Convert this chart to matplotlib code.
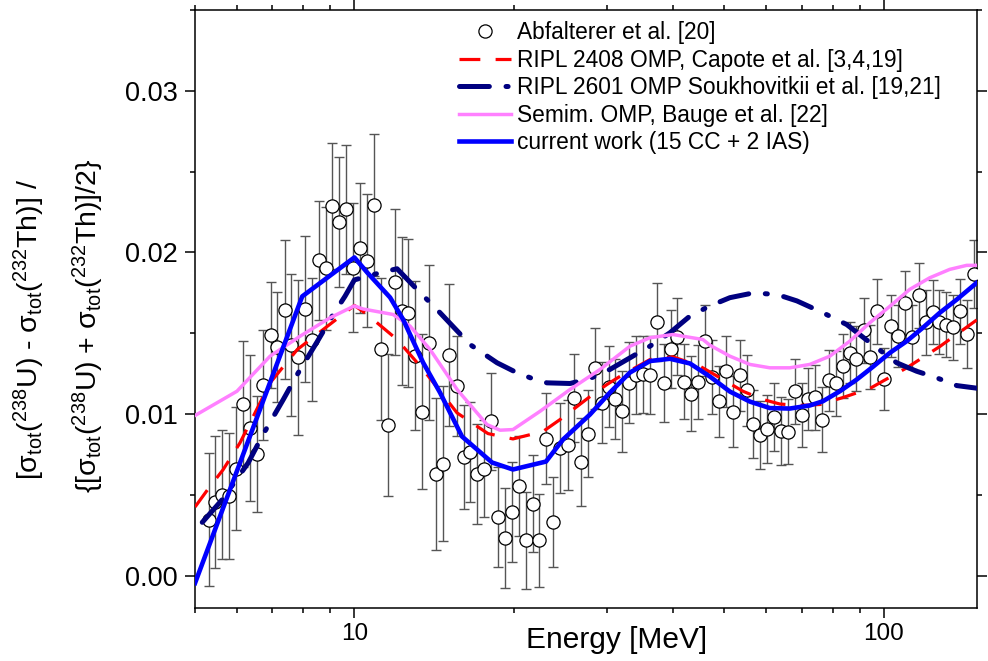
import numpy as np
import matplotlib
matplotlib.use("Agg")
import matplotlib.pyplot as plt
from matplotlib.ticker import LogLocator, NullFormatter, FuncFormatter, MultipleLocator

plt.rcParams['font.family'] = ['Liberation Sans', 'DejaVu Sans']
plt.rcParams['mathtext.fontset'] = 'custom'
plt.rcParams['mathtext.rm'] = 'Liberation Sans'
plt.rcParams['mathtext.it'] = 'Liberation Sans:italic'
plt.rcParams['lines.scale_dashes'] = False

# measured data (Abfalterer et al.)
energy = [5.31, 5.45, 5.63, 5.80, 5.97, 6.16, 6.35, 6.55, 6.72, 6.95,
          7.14, 7.38, 7.60, 7.82, 8.07, 8.31, 8.58, 8.83, 9.09, 9.36,
          9.65, 9.94, 10.25, 10.57, 10.89, 11.22, 11.56, 11.91, 12.28, 12.63,
          12.99, 13.40, 13.84, 14.26, 14.69, 15.12, 15.61, 16.09, 16.56, 17.04,
          17.59, 18.14, 18.68, 19.24, 19.83, 20.44, 21.05, 21.70, 22.36, 23.05,
          23.75, 24.46, 25.27, 25.99, 26.77, 27.60, 28.43, 29.31, 30.22, 31.10,
          32.06, 33.05, 34.03, 35.04, 36.12, 37.24, 38.38, 39.57, 40.76, 41.98,
          43.27, 44.61, 45.98, 47.34, 48.74, 50.25, 51.81, 53.41, 55.06, 56.67,
          58.34, 60.14, 62.00, 63.91, 65.89, 67.83, 69.92, 71.96, 74.24, 76.46,
          78.73, 81.10, 83.68, 86.19, 88.75, 91.57, 94.18, 97.12, 100.1, 103.2,
          106.4, 109.5, 112.9, 116.3, 119.9, 123.6, 127.3, 131.1, 135.1, 139.3,
          143.6, 147.9]
ratio = [0.00347, 0.00456, 0.00502, 0.00495, 0.00661, 0.01063, 0.00915, 0.00754, 0.01180, 0.01489,
         0.01417, 0.01644, 0.01427, 0.01352, 0.01651, 0.01461, 0.01950, 0.01901, 0.02285, 0.02188,
         0.02266, 0.01905, 0.02027, 0.01949, 0.02291, 0.01401, 0.00932, 0.01816, 0.01638, 0.01625,
         0.01362, 0.01014, 0.01441, 0.00630, 0.00692, 0.01364, 0.01172, 0.00735, 0.00765, 0.00630,
         0.00661, 0.00954, 0.00363, 0.00233, 0.00395, 0.00553, 0.00218, 0.00444, 0.00218, 0.00848,
         0.00331, 0.00791, 0.00809, 0.01099, 0.00703, 0.00879, 0.01282, 0.01069, 0.01168, 0.01093,
         0.01017, 0.01194, 0.01240, 0.01245, 0.01240, 0.01568, 0.01193, 0.01404, 0.01479, 0.01201,
         0.01127, 0.01197, 0.01454, 0.01228, 0.01079, 0.01265, 0.01015, 0.01240, 0.01147, 0.00938,
         0.00871, 0.00908, 0.00980, 0.00897, 0.00890, 0.01141, 0.00993, 0.01092, 0.01103, 0.00966,
         0.01209, 0.01189, 0.01298, 0.01380, 0.01342, 0.01518, 0.01353, 0.01636, 0.01218, 0.01546,
         0.01484, 0.01684, 0.01476, 0.01734, 0.01568, 0.01632, 0.01570, 0.01554, 0.01536, 0.01635,
         0.01497, 0.01868]
ratio_err = [0.0041, 0.0041, 0.0040, 0.0039, 0.0038, 0.0039, 0.0045, 0.0036, 0.0034, 0.0033,
             0.0034, 0.0043, 0.0044, 0.0048, 0.0045, 0.0038, 0.0037, 0.0038, 0.0039, 0.0040,
             0.0040, 0.0040, 0.0040, 0.0041, 0.0044, 0.0044, 0.0044, 0.0045, 0.0046, 0.0046,
             0.0046, 0.0048, 0.0048, 0.0047, 0.0048, 0.0044, 0.0031, 0.0032, 0.0031, 0.0031,
             0.0030, 0.0030, 0.0031, 0.0031, 0.0031, 0.0031, 0.0030, 0.0030, 0.0029, 0.0028,
             0.0028, 0.0028, 0.0028, 0.0027, 0.0027, 0.0027, 0.0025, 0.0025, 0.0025, 0.0025,
             0.0025, 0.0025, 0.0024, 0.0024, 0.0024, 0.0024, 0.0024, 0.0024, 0.0024, 0.0023,
             0.0023, 0.0023, 0.0022, 0.0023, 0.0022, 0.0022, 0.0022, 0.0022, 0.0022, 0.0021,
             0.0021, 0.0021, 0.0021, 0.0021, 0.0020, 0.0020, 0.0020, 0.0019, 0.0020, 0.0020,
             0.0019, 0.0020, 0.0020, 0.0019, 0.0020, 0.0020, 0.0020, 0.0020, 0.0019, 0.0019,
             0.0019, 0.0020, 0.0020, 0.0020, 0.0020, 0.0020, 0.0020, 0.0020, 0.0020, 0.0020,
             0.0021, 0.0021]

# RIPL 2408 (Capote)
e_capote = [5.00, 5.30, 5.65, 6.08, 6.93, 7.80, 8.73, 10.0, 10.57, 12.04, 13.48, 15.63,
            17.88, 19.93, 22.71, 24.46, 27.86, 30.00, 32.17, 36.17, 39.97, 44.94, 49.67,
            54.18, 59.10, 63.64, 69.42, 75.72, 83.68, 94.10, 100.0, 110.5, 127.6, 149.8]
capote = [0.00425, 0.00539, 0.00656, 0.00822, 0.01193, 0.01399, 0.01523, 0.01672, 0.01616,
          0.01461, 0.01276, 0.01007, 0.00879, 0.00846, 0.00892, 0.00966, 0.01108, 0.01183,
          0.01245, 0.01337, 0.01354, 0.01296, 0.01214, 0.01141, 0.01090, 0.01062, 0.01053,
          0.01059, 0.01102, 0.01158, 0.01207, 0.01286, 0.01418, 0.01582]

# RIPL 2601 (Soukhovitskii)
e_souk = [5.16, 5.63, 6.30, 6.72, 7.34, 7.80, 8.50, 9.08, 9.60, 10.0, 11.23, 12.04, 12.91,
          14.51, 16.54, 18.60, 20.29, 21.75, 23.11, 25.55, 27.86, 30.39, 33.16, 36.17, 39.45,
          43.03, 46.94, 51.20, 56.59, 62.81, 68.52, 76.70, 85.07, 96.94, 105.8, 115.3, 125.9,
          137.4, 149.8]
souk = [0.00330, 0.00471, 0.00698, 0.00873, 0.01090, 0.01245, 0.01446, 0.01606, 0.01729,
        0.01830, 0.01876, 0.01899, 0.01796, 0.01627, 0.01430, 0.01317, 0.01255, 0.01218,
        0.01193, 0.01189, 0.01220, 0.01276, 0.01348, 0.01420, 0.01503, 0.01606, 0.01669,
        0.01720, 0.01749, 0.01740, 0.01700, 0.01627, 0.01554, 0.01410, 0.01317, 0.01265,
        0.01224, 0.01176, 0.01160]

# semi-microscopic OMP (Bauge)
e_bauge = [5.00, 6.00, 6.93, 7.90, 9.00, 10.0, 10.38, 11.83, 12.74, 13.90, 15.63, 17.80,
           18.84, 19.93, 22.42, 25.55, 29.11, 33.16, 36.17, 39.97, 45.53, 46.94, 51.20,
           55.85, 60.92, 66.45, 72.48, 79.07, 86.25, 94.10, 102.7, 111.9, 122.1, 133.2,
           143.4, 149.8]
bauge = [0.00991, 0.01141, 0.01358, 0.01482, 0.01596, 0.01669, 0.01650, 0.01616, 0.01544,
         0.01399, 0.01152, 0.00935, 0.00900, 0.00904, 0.01017, 0.01152, 0.01276, 0.01420,
         0.01472, 0.01492, 0.01461, 0.01426, 0.01358, 0.01307, 0.01286, 0.01286, 0.01307,
         0.01358, 0.01451, 0.01565, 0.01667, 0.01771, 0.01843, 0.01895, 0.01920, 0.01920]

# current work (15 CC + 2 IAS)
e_cur = [5.00, 7.97, 10.0, 10.57, 11.68, 12.36, 13.48, 14.51, 15.97, 18.20, 19.93, 23.01,
         24.77, 27.86, 30.39, 33.16, 36.17, 39.45, 43.03, 46.94, 51.20, 55.85, 60.92, 66.45,
         72.48, 76.70, 82.60, 88.94, 95.35, 102.7, 110.5, 118.5, 127.6, 137.4, 149.8]
cur = [-0.00046, 0.01728, 0.01969, 0.01876, 0.01721, 0.01585, 0.01319, 0.01133, 0.00861,
       0.00700, 0.00657, 0.00706, 0.00842, 0.00997, 0.01133, 0.01257, 0.01328, 0.01342,
       0.01313, 0.01232, 0.01139, 0.01077, 0.01037, 0.01034, 0.01053, 0.01079, 0.01141,
       0.01214, 0.01292, 0.01379, 0.01451, 0.01534, 0.01627, 0.01709, 0.01812]

fig = plt.figure(figsize=(9.88, 6.61), dpi=100)
ax = fig.add_axes([0.1974, 0.0802, 0.7915, 0.9047])

ax.errorbar(energy, ratio, yerr=ratio_err, fmt='none', ecolor='#555555',
            elinewidth=1.0, capsize=3.5, capthick=1.0, zorder=2)
ax.plot(energy, ratio, 'o', ms=9.5, mfc='white', mec='black', mew=0.9, zorder=3,
        label='Abfalterer et al. [20]')
ax.plot(e_capote, capote, color='#ff0000', lw=2.3, dashes=(15, 11), zorder=4,
        label='RIPL 2408 OMP, Capote et al. [3,4,19]')
ax.plot(e_souk, souk, color='#000080', lw=3.6, dashes=(21.5, 12, 1.5, 12),
        dash_capstyle='round', zorder=4,
        label='RIPL 2601 OMP Soukhovitkii et al. [19,21]')
ax.plot(e_bauge, bauge, color='#ff80ff', lw=2.5, zorder=4,
        label='Semim. OMP, Bauge et al. [22]')
ax.plot(e_cur, cur, color='#0000ff', lw=3.3, zorder=5,
        label='current work (15 CC + 2 IAS)')

ax.set_xscale('log')
ax.set_xlim(5, 150)
ax.set_ylim(-0.002, 0.035)
ax.xaxis.set_major_locator(LogLocator(base=10))
ax.xaxis.set_minor_locator(LogLocator(base=10, subs=np.arange(2, 10)))
ax.xaxis.set_major_formatter(FuncFormatter(lambda v, p: f'{v:g}'))
ax.xaxis.set_minor_formatter(NullFormatter())
ax.yaxis.set_major_locator(MultipleLocator(0.01))
ax.yaxis.set_minor_locator(MultipleLocator(0.005))
ax.yaxis.set_major_formatter(FuncFormatter(lambda v, p: f'{v:.2f}'))

ax.tick_params(which='both', direction='out', top=True, right=True, width=1.1)
ax.tick_params(which='major', length=7)
ax.tick_params(which='minor', length=3.6)
ax.tick_params(axis='x', labelsize=17.5, pad=4)
ax.tick_params(axis='y', labelsize=19.5, pad=5.5)
for s in ax.spines.values():
    s.set_linewidth(1.1)

fig.text(617 / 988, 1 - 648 / 661, 'Energy [MeV]', fontsize=21.5,
         ha='center', va='baseline')
fig.text(29 / 988, 1 - 330 / 661,
         r'[σ$_{\rm tot}$($^{238}$U) - σ$_{\rm tot}$($^{232}$Th)] /',
         fontsize=20.5, rotation=90, ha='center', va='center')
fig.text(88 / 988, 1 - 326 / 661,
         r'{[σ$_{\rm tot}$($^{238}$U) + σ$_{\rm tot}$($^{232}$Th)]/2}',
         fontsize=20.5, rotation=90, ha='center', va='center')

ax.legend(loc='upper left', bbox_to_anchor=(459 / 988, 1 - 21 / 661),
          bbox_transform=fig.transFigure, frameon=False, fontsize=16.4,
          handlelength=2.3, handletextpad=0.25, labelspacing=0.2,
          borderpad=0, borderaxespad=0)

fig.savefig('out.png', dpi=100)
